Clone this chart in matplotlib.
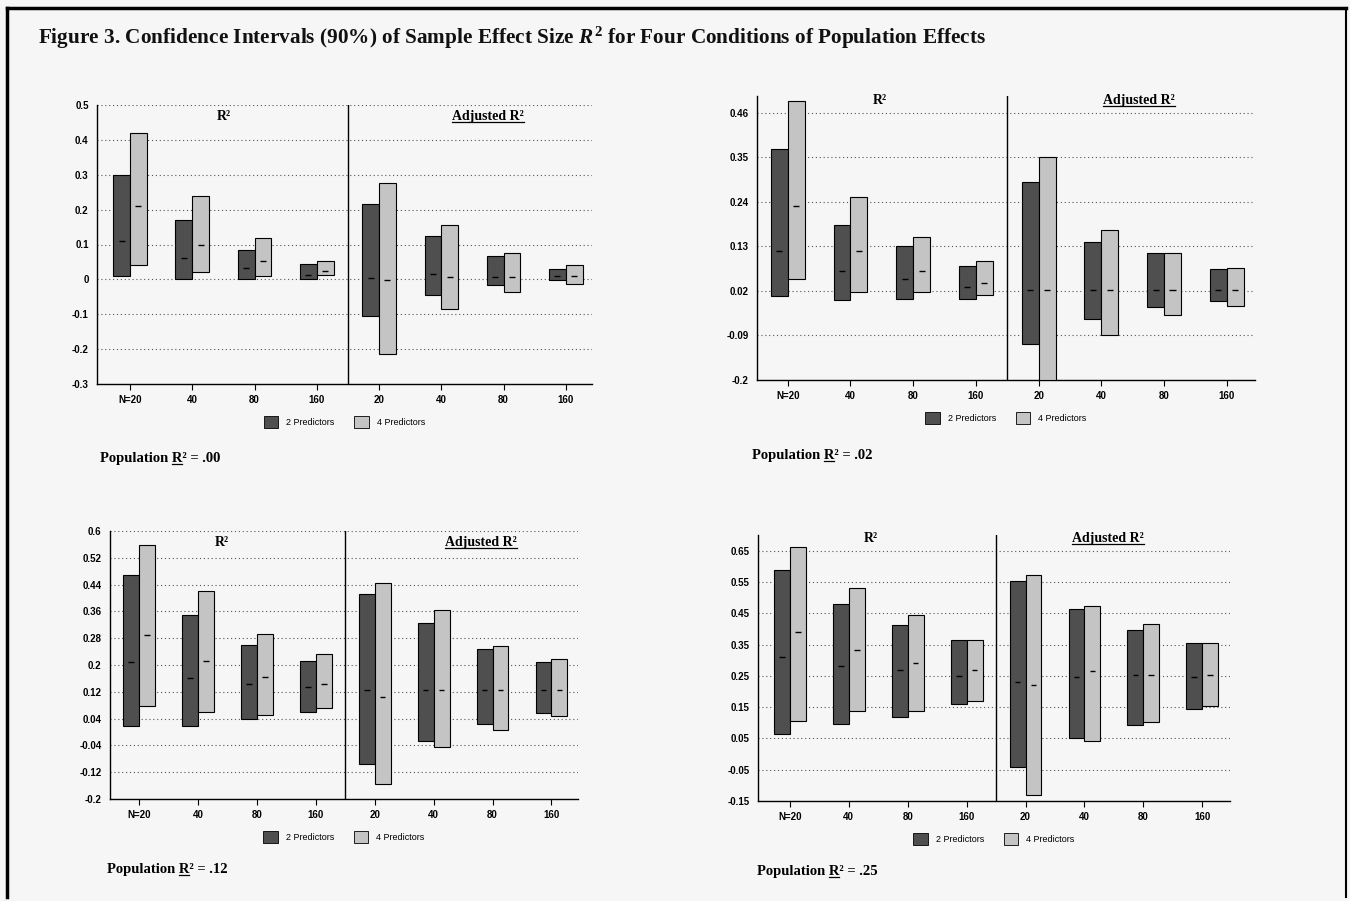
import matplotlib.pyplot as plt
from matplotlib.patches import Patch
from matplotlib.lines import Line2D
import numpy as np

# x categories: first four = R^2, last four = adjusted R^2
sizes = ['N=20', '40', '80', '160', '20', '40', '80', '160']
pop_labels = ['.00', '.02', '.12', '.25']

# population R^2 = .00
p00_two_lo = [0.01, 0.0, 0.0, 0.002, -0.105, -0.045, -0.015, -0.002]
p00_two_hi = [0.30, 0.17, 0.083, 0.043, 0.215, 0.125, 0.068, 0.03]
p00_two_mid = [0.11, 0.062, 0.033, 0.013, 0.005, 0.015, 0.008, 0.01]
p00_four_lo = [0.04, 0.02, 0.01, 0.012, -0.215, -0.085, -0.035, -0.012]
p00_four_hi = [0.42, 0.24, 0.12, 0.054, 0.275, 0.155, 0.077, 0.04]
p00_four_mid = [0.21, 0.10, 0.052, 0.025, -0.003, 0.008, 0.008, 0.01]

# population R^2 = .02
p02_two_lo = [0.008, -0.002, 0.0, 0.0, -0.11, -0.05, -0.02, -0.005]
p02_two_hi = [0.37, 0.182, 0.132, 0.083, 0.29, 0.14, 0.115, 0.075]
p02_two_mid = [0.12, 0.07, 0.05, 0.03, 0.022, 0.022, 0.022, 0.022]
p02_four_lo = [0.049, 0.018, 0.018, 0.01, -0.2, -0.088, -0.04, -0.016]
p02_four_hi = [0.49, 0.253, 0.153, 0.093, 0.35, 0.17, 0.115, 0.076]
p02_four_mid = [0.23, 0.12, 0.07, 0.04, 0.022, 0.022, 0.022, 0.022]

# population R^2 = .12
p12_two_lo = [0.017, 0.018, 0.039, 0.061, -0.097, -0.026, 0.025, 0.057]
p12_two_hi = [0.468, 0.349, 0.261, 0.212, 0.412, 0.326, 0.247, 0.208]
p12_two_mid = [0.209, 0.161, 0.142, 0.134, 0.124, 0.126, 0.126, 0.126]
p12_four_lo = [0.078, 0.06, 0.051, 0.073, -0.156, -0.046, 0.005, 0.048]
p12_four_hi = [0.558, 0.42, 0.292, 0.233, 0.444, 0.365, 0.257, 0.218]
p12_four_mid = [0.29, 0.212, 0.164, 0.144, 0.105, 0.126, 0.126, 0.126]

# population R^2 = .25
p25_two_lo = [0.065, 0.097, 0.118, 0.159, -0.041, 0.05, 0.093, 0.143]
p25_two_hi = [0.589, 0.481, 0.412, 0.363, 0.553, 0.465, 0.396, 0.354]
p25_two_mid = [0.31, 0.281, 0.269, 0.25, 0.231, 0.247, 0.254, 0.246]
p25_four_lo = [0.105, 0.138, 0.138, 0.169, -0.13, 0.043, 0.103, 0.154]
p25_four_hi = [0.662, 0.531, 0.443, 0.363, 0.572, 0.474, 0.416, 0.354]
p25_four_mid = [0.39, 0.331, 0.29, 0.27, 0.222, 0.264, 0.254, 0.254]

p00_yticks = [-0.3, -0.2, -0.1, 0, 0.1, 0.2, 0.3, 0.4, 0.5]
p00_ylabels = ['-0.3', '-0.2', '-0.1', '0', '0.1', '0.2', '0.3', '0.4', '0.5']
p02_yticks = [-0.2, -0.09, 0.02, 0.13, 0.24, 0.35, 0.46]
p02_ylabels = ['-0.2', '-0.09', '0.02', '0.13', '0.24', '0.35', '0.46']
p12_yticks = [-0.2, -0.12, -0.04, 0.04, 0.12, 0.2, 0.28, 0.36, 0.44, 0.52, 0.6]
p12_ylabels = ['-0.2', '-0.12', '-0.04', '0.04', '0.12', '0.2', '0.28', '0.36', '0.44', '0.52', '0.6']
p25_yticks = [-0.15, -0.05, 0.05, 0.15, 0.25, 0.35, 0.45, 0.55, 0.65]
p25_ylabels = ['-0.15', '-0.05', '0.05', '0.15', '0.25', '0.35', '0.45', '0.55', '0.65']

W, H = 1350, 901
DARK = '#4f4f4f'
LIGHT = '#c4c4c4'
BG = '#f6f6f6'
SERIF = 'Liberation Serif'
SANS = 'Liberation Sans'


def fx(x):
    return x / W


def fy(y):
    return 1 - y / H


# pixel layout: left, top, right, bottom ; xlim ; ylim ; header y ; population label pos
panels = [
    dict(rect=(97, 105, 592, 384), xlim=(-0.53, 7.42), ylim=(-0.3, 0.5), head_y=0.946, hx=(1.5, 5.75),
         yt=p00_yticks, yl=p00_ylabels, pop=(100, 462),
         d=(p00_two_lo, p00_two_hi, p00_two_mid, p00_four_lo, p00_four_hi, p00_four_mid)),
    dict(rect=(757, 96, 1255, 380), xlim=(-0.49, 7.45), ylim=(-0.2, 0.502), head_y=0.972, hx=(1.47, 5.6),
         yt=p02_yticks, yl=p02_ylabels, pop=(752, 459),
         d=(p02_two_lo, p02_two_hi, p02_two_mid, p02_four_lo, p02_four_hi, p02_four_mid)),
    dict(rect=(110, 531, 578, 799), xlim=(-0.49, 7.45), ylim=(-0.2, 0.6), head_y=0.944, hx=(1.41, 5.8),
         yt=p12_yticks, yl=p12_ylabels, pop=(107, 873),
         d=(p12_two_lo, p12_two_hi, p12_two_mid, p12_four_lo, p12_four_hi, p12_four_mid)),
    dict(rect=(758, 535, 1230, 801), xlim=(-0.54, 7.47), ylim=(-0.15, 0.70), head_y=0.974, hx=(1.38, 5.4),
         yt=p25_yticks, yl=p25_ylabels, pop=(757, 875),
         d=(p25_two_lo, p25_two_hi, p25_two_mid, p25_four_lo, p25_four_hi, p25_four_mid)),
]

fig = plt.figure(figsize=(13.5, 9.01), dpi=100, facecolor=BG)
plt.rcParams['mathtext.fontset'] = 'custom'
plt.rcParams['mathtext.it'] = 'Liberation Serif:italic:bold'
plt.rcParams['mathtext.rm'] = 'Liberation Serif:bold'

# figure 3 caption
fig.text(fx(38), fy(38), 'Figure 3. Confidence Intervals (90%) of Sample Effect Size $R^2$ for Four Conditions of Population Effects',
         fontsize=15.3, fontweight='bold', family=SERIF, va='center', ha='left', color='#111111')

underline_me = []
x = np.arange(len(sizes))
bw = 0.27

for i, p in enumerate(panels):
    l, t, r, b = p['rect']
    ax = fig.add_axes([fx(l), fy(b), fx(r) - fx(l), fy(t) - fy(b)])
    ax.set_facecolor('none')
    two_lo, two_hi, two_mid, four_lo, four_hi, four_mid = [np.array(a) for a in p['d']]

    ax.bar(x - bw / 2, two_hi - two_lo, bottom=two_lo, width=bw, color=DARK, edgecolor='black', linewidth=0.8, zorder=3)
    ax.bar(x + bw / 2, four_hi - four_lo, bottom=four_lo, width=bw, color=LIGHT, edgecolor='black', linewidth=0.8, zorder=3)
    ax.hlines(two_mid, x - bw / 2 - bw * 0.18, x - bw / 2 + bw * 0.18, color='black', linewidth=1.0, zorder=4)
    ax.hlines(four_mid, x + bw / 2 - bw * 0.18, x + bw / 2 + bw * 0.18, color='black', linewidth=1.0, zorder=4)

    ax.axvline(3.5, color='black', linewidth=1.0, zorder=2)
    ax.set_xlim(*p['xlim'])
    ax.set_ylim(*p['ylim'])
    ax.set_yticks(p['yt'])
    ax.set_yticklabels(p['yl'])
    ax.set_xticks(x)
    ax.set_xticklabels(sizes)
    for lab in ax.get_xticklabels() + ax.get_yticklabels():
        lab.set_fontfamily(SANS)
        lab.set_fontweight('bold')
        lab.set_fontsize(7)
    ax.tick_params(axis='y', length=0, pad=6)
    ax.tick_params(axis='x', length=4, width=0.8, pad=4, direction='out')
    ax.grid(axis='y', linestyle=(0, (1, 2.5)), color='#555555', linewidth=0.8, zorder=1)
    ax.spines[['right', 'top']].set_visible(False)
    ax.spines['left'].set_linewidth(1.0)
    ax.spines['bottom'].set_linewidth(1.0)

    # group headers
    ax.text(p['hx'][0], p['head_y'], 'R\u00b2', transform=ax.get_xaxis_transform(), ha='center',
            va='baseline', family=SERIF, fontweight='bold', fontsize=10)
    h2 = ax.text(p['hx'][1], p['head_y'], 'Adjusted R\u00b2', transform=ax.get_xaxis_transform(), ha='center',
                 va='baseline', family=SERIF, fontweight='bold', fontsize=10)
    underline_me.append((h2, None))

    handles = [Patch(facecolor=DARK, edgecolor='black', linewidth=0.6),
               Patch(facecolor=LIGHT, edgecolor='black', linewidth=0.6)]
    ax.legend(handles, ['2 Predictors', '4 Predictors'], loc='center', ncol=2, frameon=False,
              bbox_to_anchor=(0.5, -38 / (b - t)), prop={'family': SANS, 'size': 6.5},
              handlelength=1.6, handleheight=1.8, handletextpad=0.9, columnspacing=2.2)

    px_, py_ = p['pop']
    pt = fig.text(fx(px_), fy(py_), 'Population R\u00b2 = ' + pop_labels[i], family=SERIF, fontweight='bold',
                  fontsize=10.5, ha='left', va='baseline')
    underline_me.append((pt, 'Population R'))

# underline text (whole or just the last glyph of a prefix)
fig.canvas.draw()
rend = fig.canvas.get_renderer()
inv = fig.transFigure.inverted()
for txt, prefix in underline_me:
    bb = txt.get_window_extent(rend)
    xb, yb = txt.get_transform().transform(txt.get_position())
    if prefix is None:
        x0, x1 = bb.x0, bb.x1
    else:
        kw = dict(family=SERIF, fontweight='bold', fontsize=txt.get_fontsize())
        a = fig.text(0, 0, prefix, **kw)
        c = fig.text(0, 0, 'R', **kw)
        wa = a.get_window_extent(rend).width
        wc = c.get_window_extent(rend).width
        a.remove()
        c.remove()
        x0, x1 = bb.x0 + wa - wc, bb.x0 + wa
    (u0, v0) = inv.transform((x0, yb - 2))
    (u1, v1) = inv.transform((x1, yb - 2))
    fig.add_artist(Line2D([u0, u1], [v0, v1], color='black', linewidth=0.9, transform=fig.transFigure))

# scanned page frame
fig.add_artist(Line2D([fx(7), fx(1346)], [fy(8), fy(8)], color='black', linewidth=2.5, transform=fig.transFigure))
fig.add_artist(Line2D([fx(7), fx(7)], [fy(8), fy(897)], color='black', linewidth=2.5, transform=fig.transFigure))
fig.add_artist(Line2D([fx(1346), fx(1346)], [fy(8), fy(897)], color='black', linewidth=1.5, transform=fig.transFigure))

fig.savefig('out.png', dpi=100, facecolor=BG)
